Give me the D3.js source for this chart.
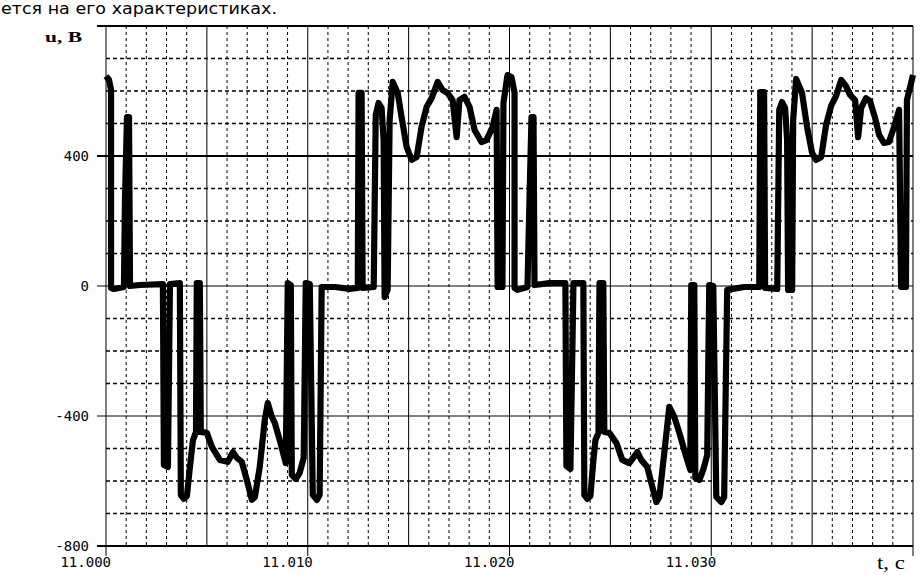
<!DOCTYPE html>
<html>
<head>
<meta charset="utf-8">
<script src="https://cdn.jsdelivr.net/npm/d3@7"></script>
<style>
  body { margin: 0; background: white; }
  svg { display: block; }
  .tick-label { font-family: 'DejaVu Sans Mono', monospace; font-size: 14px; fill: black; }
  .axis-title { font-family: 'Liberation Serif', serif; fill: black; }
</style>
</head>
<body>
<svg width="921" height="575"></svg>
<script>
// time after 11.000 s, in milliseconds
const timeMs = [
    0.00, 0.15, 0.25, 0.25, 0.40, 0.89, 0.94, 1.04, 1.14, 1.19,
    1.68, 2.82, 2.87, 3.07, 3.17, 3.66, 3.71, 3.86, 4.01, 4.16, 4.31, 4.46,
    4.50, 4.65, 4.70, 5.00, 5.25, 5.64, 6.04, 6.29, 6.49, 6.73, 6.98, 7.23,
    7.38, 7.62, 7.87, 8.02, 8.22, 8.37, 8.61, 8.91, 9.01, 9.16, 9.21, 9.41,
    9.60, 9.80, 9.90, 10.10, 10.25, 10.45, 10.59, 10.69, 11.34, 12.08, 12.48, 12.52,
    12.67, 12.72, 13.27, 13.32, 13.37, 13.51, 13.66, 13.76, 13.81, 13.96, 14.06, 14.21,
    14.46, 14.65, 14.90, 15.15, 15.40, 15.64, 15.89, 16.14, 16.44, 16.68, 16.93, 17.18,
    17.38, 17.52, 17.77, 18.02, 18.27, 18.61, 18.86, 19.16, 19.36, 19.41, 19.65, 19.70, 19.90, 20.10, 20.25, 20.25,
    20.40, 20.89, 20.99, 21.09, 21.19, 21.24, 21.98, 22.77, 22.82, 23.02, 23.17, 23.66,
    23.71, 23.86, 24.01, 24.16, 24.26, 24.41, 24.46, 24.65, 24.70, 24.95, 25.30, 25.59,
    25.94, 26.34, 26.53, 26.83, 27.03, 27.28, 27.43, 27.67, 27.92, 28.17, 28.42, 28.76,
    28.96, 29.01, 29.16, 29.21, 29.41, 29.60, 29.80, 29.90, 30.10, 30.25, 30.50, 30.64, 30.79,
    31.63, 32.38, 32.43, 32.62, 32.67, 33.27, 33.32, 33.37, 33.51, 33.66, 33.76, 33.81, 34.01,
    34.06, 34.21, 34.50, 34.75, 35.00, 35.20, 35.45, 35.69, 35.94, 36.19, 36.44, 36.68, 36.88, 37.13,
    37.28, 37.43, 37.67, 37.87, 38.12, 38.32, 38.56, 38.81, 39.06, 39.31, 39.41, 39.65, 39.70, 40.00
];

// u, V
const voltage = [
    646, 634, 603, -6, -9, -3, 265, 520, 520, 0,
    3, 6, -551, -557, 6, 9, -643, -655, -646, -557, -474, -449,
    9, 9, -449, -452, -495, -535, -541, -511, -529, -541, -597, -658,
    -649, -557, -412, -360, -403, -422, -474, -545, 9, 3, -581, -594,
    -575, -529, 9, 6, -643, -658, -643, -3, -3, -9, -6, 594,
    594, -6, -3, 265, 526, 563, 548, 449, -34, -12, 511, 628,
    594, 520, 428, 388, 397, 489, 551, 578, 628, 603, 594, 572,
    458, 572, 582, 551, 480, 443, 449, 489, 542, -3, -3, 563, 649, 643, 594, -6,
    -12, -3, 265, 520, 520, 3, 9, 9, -554, -563, 9, 9,
    -643, -655, -646, -535, -474, -452, 9, 9, -449, -452, -483, -535,
    -545, -511, -535, -557, -606, -665, -649, -514, -372, -403, -452, -526,
    -566, 3, 3, -591, -597, -566, -520, 3, 0, -649, -665, -649, -12,
    -3, -3, 597, 597, -6, -9, 265, 542, 566, 548, 449, -12, -12,
    511, 637, 594, 489, 409, 388, 397, 495, 554, 585, 634, 615, 588, 572,
    458, 548, 578, 569, 517, 465, 440, 443, 489, 542, -3, -3, 572, 649
];

const voltTicks = [-800, -400, 0, 400];
const timeTicks = [0, 10, 20, 30];   // ms after 11.000 s

const svg = d3.select('svg');
const svg_width = parseFloat(svg.attr('width'));
const svg_height = parseFloat(svg.attr('height'));

const margin = { top: 26, bottom: 29, left: 106, right: 8 };
const innerWidth = svg_width - margin.left - margin.right;
const innerHeight = svg_height - margin.top - margin.bottom;

const xScale = d3.scaleLinear().domain([0, 40]).range([0, innerWidth]);
const yScale = d3.scaleLinear().domain([-800, 800]).range([innerHeight, 0]);

// stray line of text from the page above the figure
svg.append('text')
    .attr('x', 1)
    .attr('y', 14)
    .attr('font-family', 'DejaVu Sans, sans-serif')
    .attr('font-size', 15)
    .attr('textLength', 276)
    .attr('lengthAdjust', 'spacingAndGlyphs')
    .text('ется на его характеристиках.');

const g = svg.append('g')
    .attr('transform', `translate(${margin.left}, ${margin.top})`);

// dashed grid
const minorVolts = d3.range(-700, 800, 100).filter(v => v % 400 !== 0);
const minorTimes = d3.range(1, 40, 1).filter(t => t % 5 !== 0);

g.selectAll('.hminor').data(minorVolts).enter().append('line')
    .attr('x1', 0).attr('x2', innerWidth)
    .attr('y1', d => yScale(d)).attr('y2', d => yScale(d))
    .attr('stroke', 'black').attr('stroke-width', 1.5)
    .attr('stroke-dasharray', '4,3');

g.selectAll('.vminor').data(minorTimes).enter().append('line')
    .attr('x1', d => xScale(d)).attr('x2', d => xScale(d))
    .attr('y1', 0).attr('y2', innerHeight)
    .attr('stroke', 'black').attr('stroke-width', 1)
    .attr('stroke-dasharray', '3,3');

// solid grid, horizontal lines stick out to the left as ticks
const majorVolts = [-800, -400, 0, 400, 800];
g.selectAll('.hmajor').data(majorVolts).enter().append('line')
    .attr('x1', -9).attr('x2', innerWidth)
    .attr('y1', d => yScale(d)).attr('y2', d => yScale(d))
    .attr('stroke', 'black')
    .attr('stroke-width', d => (d === 0 || d === -400) ? 1 : 2);

const majorTimes = d3.range(0, 41, 5);
g.selectAll('.vmajor').data(majorTimes).enter().append('line')
    .attr('x1', d => xScale(d)).attr('x2', d => xScale(d))
    .attr('y1', 0)
    .attr('y2', d => d % 10 === 0 ? innerHeight + 10 : innerHeight)
    .attr('stroke', 'black').attr('stroke-width', 1);

// tick labels
g.selectAll('.ylabel').data(voltTicks).enter().append('text')
    .attr('class', 'tick-label')
    .attr('x', -17)
    .attr('y', d => yScale(d) + 5)
    .attr('text-anchor', 'end')
    .text(d => String(d));

g.selectAll('.xlabel').data(timeTicks).enter().append('text')
    .attr('class', 'tick-label')
    .attr('x', d => xScale(d) + 5)
    .attr('y', innerHeight + 21)
    .attr('text-anchor', 'end')
    .text(d => (11 + d / 1000).toFixed(3));

// axis titles
svg.append('text')
    .attr('class', 'axis-title')
    .attr('x', 45).attr('y', 42)
    .attr('font-size', 15).attr('font-weight', 'bold')
    .attr('textLength', 37).attr('lengthAdjust', 'spacingAndGlyphs')
    .text('u, В');

svg.append('text')
    .attr('class', 'axis-title')
    .attr('x', 877).attr('y', 569)
    .attr('font-size', 19)
    .attr('textLength', 28).attr('lengthAdjust', 'spacingAndGlyphs')
    .text('t, с');

// waveform
const points = timeMs.map((t, i) => ({ t: t, u: voltage[i] }));
const line = d3.line()
    .x(d => xScale(d.t))
    .y(d => yScale(d.u));

g.append('path')
    .datum(points)
    .attr('d', line)
    .attr('fill', 'none')
    .attr('stroke', 'black')
    .attr('stroke-width', 6.2)
    .attr('stroke-linejoin', 'round');
</script>
</body>
</html>
